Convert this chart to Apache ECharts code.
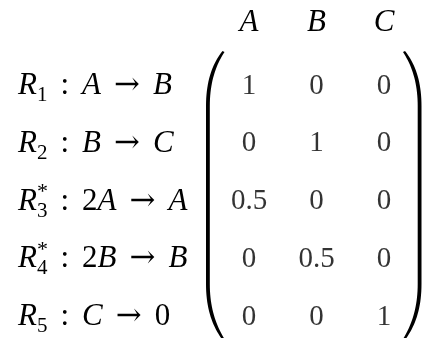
<!DOCTYPE html>
<html>
<head>
<meta charset="utf-8">
<script src="https://cdn.jsdelivr.net/npm/echarts@6/dist/echarts.min.js"></script>
<style>
  html, body { margin: 0; padding: 0; background: #fff; }
  #chart { width: 425px; height: 338px; }
</style>
</head>
<body>
<div id="chart"></div>
<script>
// ---- data ----
const columns = ['A', 'B', 'C'];
const reactionNames = ['R1', 'R2', 'R3*', 'R4*', 'R5'];
const reactionEquations = ['A → B', 'B → C', '2A → A', '2B → B', 'C → 0'];
const rowA = [1, 0, 0];
const rowB = [0, 1, 0];
const rowC = [0.5, 0, 0];
const rowD = [0, 0.5, 0];
const rowE = [0, 0, 1];
const matrixRows = [rowA, rowB, rowC, rowD, rowE];

// ---- helpers for math-like rich text ----
const FONT = 'Liberation Serif';
function mathRich(s) {
  let out = '';
  for (const ch of s) {
    if (/[A-Za-z]/.test(ch)) out += '{i|' + ch + '}';
    else if (ch === '→') out += '{ar|→}';
    else if (ch === ' ') out += '{g| }';
    else out += '{n|' + ch + '}';
  }
  return out;
}
function nameRich(name) {
  const m = name.match(/^([A-Za-z])(\d+)(\*?)$/);
  let out = '{i|' + m[1] + '}';
  if (m[3]) out += '{sup|*}{sub2|' + m[2] + '}';
  else out += '{sub|' + m[2] + '}';
  return out;
}

const cells = [];
matrixRows.forEach((row, r) => {
  row.forEach((v, c) => cells.push([columns[c], reactionNames[r], v]));
});

// parenthesis outline as polygon (sampled bezier curves)
function bez(p0, p1, p2, p3, n) {
  const out = [];
  for (let k = 0; k <= n; k++) {
    const t = k / n, u = 1 - t;
    out.push([
      u*u*u*p0[0] + 3*u*u*t*p1[0] + 3*u*t*t*p2[0] + t*t*t*p3[0],
      u*u*u*p0[1] + 3*u*u*t*p1[1] + 3*u*t*t*p2[1] + t*t*t*p3[1]
    ]);
  }
  return out;
}
function parenPoints(mirror) {
  let pts = [];
  pts = pts.concat(bez([222.5, 51], [213, 63], [206, 80], [206, 106], 20));
  pts = pts.concat(bez([206, 284], [206, 310], [213, 327], [222.5, 340], 20));
  pts = pts.concat(bez([224.5, 339], [216, 325], [209.8, 308], [209.8, 284], 20));
  pts = pts.concat(bez([209.8, 106], [209.8, 82], [216, 65], [224.5, 52], 20));
  return pts.map(p => [mirror ? 627.5 - p[0] : p[0], p[1]]);
}

const chart = echarts.init(document.getElementById('chart'), null, { renderer: 'canvas' });

chart.setOption({
  animation: false,
  backgroundColor: '#fff',
  grid: { left: 249, right: 41, top: 86, bottom: 21, containLabel: false },
  xAxis: {
    type: 'category',
    position: 'top',
    data: columns,
    boundaryGap: false,
    axisLine: { show: false },
    axisTick: { show: false },
    splitLine: { show: false },
    axisLabel: {
      margin: 63,
      verticalAlign: 'middle',
      fontFamily: FONT,
      fontStyle: 'italic',
      fontSize: 31,
      color: '#000'
    }
  },
  yAxis: {
    type: 'category',
    data: reactionNames,
    inverse: true,
    boundaryGap: false,
    axisLine: { show: false },
    axisTick: { show: false },
    splitLine: { show: false },
    axisLabel: {
      margin: 231,
      align: 'left',
      verticalAlign: 'middle',
      formatter: (value, idx) => nameRich(value) + '{g| }{n|:}{g| }' + mathRich(reactionEquations[idx]),
      rich: {
        i: { fontFamily: FONT, fontStyle: 'italic', fontSize: 31, lineHeight: 40, color: '#000' },
        n: { fontFamily: FONT, fontSize: 31, lineHeight: 40, color: '#000' },
        g: { fontFamily: FONT, fontSize: 31, lineHeight: 40, width: 13, color: '#000' },
        ar: { fontFamily: 'DejaVu Serif', fontSize: 31, lineHeight: 40, color: '#000' },
        sub: { fontFamily: FONT, fontSize: 21, lineHeight: 22, verticalAlign: 'bottom', color: '#000' },
        sub2: { fontFamily: FONT, fontSize: 21, lineHeight: 17, verticalAlign: 'bottom', color: '#000' },
        sup: { fontFamily: FONT, fontSize: 22, lineHeight: 22, width: 0, verticalAlign: 'top', color: '#000' }
      }
    }
  },
  series: [{
    type: 'scatter',
    data: cells,
    symbolSize: 1,
    itemStyle: { color: 'rgba(0,0,0,0)' },
    label: {
      show: true,
      position: 'inside',
      formatter: p => String(p.value[2]),
      fontFamily: FONT,
      fontSize: 29,
      color: '#000'
    }
  }],
  graphic: [
    { type: 'polygon', shape: { points: parenPoints(false) }, style: { fill: '#000' } },
    { type: 'polygon', shape: { points: parenPoints(true) }, style: { fill: '#000' } }
  ]
});
</script>
</body>
</html>
